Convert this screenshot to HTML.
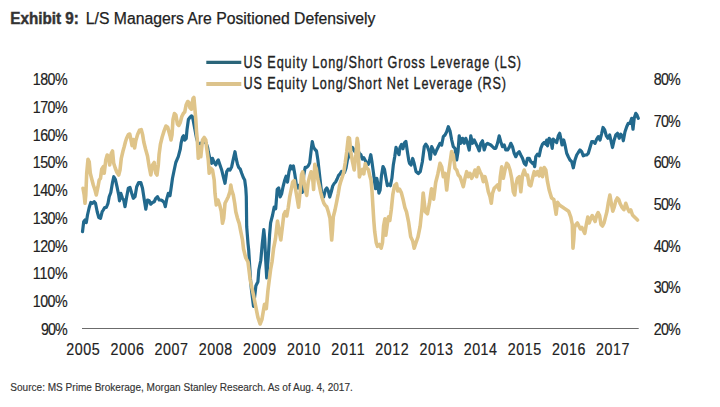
<!DOCTYPE html>
<html><head><meta charset="utf-8"><style>
html,body{margin:0;padding:0;background:#fff;}
body{width:720px;height:407px;overflow:hidden;position:relative;}
svg{position:absolute;left:0;top:0;}
text{font-family:"Liberation Sans", sans-serif;}
</style></head><body>
<svg width="720" height="407" viewBox="0 0 720 407">
<rect width="720" height="407" fill="#fff"/>
<line x1="82" y1="328.5" x2="638.7" y2="328.5" stroke="#6b6b6b" stroke-width="1.1"/>
<line x1="206.3" y1="62.3" x2="241.3" y2="62.3" stroke="#2a6579" stroke-width="3.2"/>
<line x1="206.3" y1="84" x2="241.3" y2="84" stroke="#dcc38c" stroke-width="4"/>
<polyline fill="none" stroke="#22698d" stroke-width="3.2" stroke-linejoin="round" stroke-linecap="round" points="82.5,231.7 83.7,221.7 85.0,220.0 86.3,222.5 87.5,215.0 89.2,207.5 90.8,202.5 92.5,203.3 94.2,201.7 95.5,203.3 97.2,211.7 98.8,217.5 100.5,218.3 102.2,211.7 103.3,210.0 104.7,207.5 106.3,207.5 108.0,203.3 109.2,196.7 110.8,192.5 112.5,182.5 113.8,176.7 115.3,179.2 117.0,186.7 118.7,195.0 119.5,200.8 120.8,193.3 122.5,198.3 123.7,200.0 125.0,206.7 126.7,196.7 128.3,188.3 130.0,187.5 131.7,193.3 133.3,198.3 135.0,196.7 136.7,186.7 138.7,182.5 140.8,182.5 142.5,188.3 144.2,199.2 145.8,209.2 147.5,200.0 149.2,200.8 150.8,204.2 152.5,202.5 154.2,201.7 155.8,198.3 157.5,196.7 159.2,200.0 160.8,200.0 162.5,200.8 164.2,202.5 165.3,206.7 166.7,199.2 168.3,193.3 170.0,195.8 171.3,186.7 172.5,178.3 174.2,170.0 175.8,162.5 178.3,156.7 180.3,149.0 181.1,143.1 182.5,137.2 183.6,135.7 184.7,140.1 186.2,138.7 187.0,129.8 188.4,119.5 189.9,117.3 191.4,115.8 192.4,116.5 193.3,121.0 195.0,130.0 196.5,138.0 198.0,143.0 199.5,144.6 201.0,143.1 203.9,141.6 206.1,143.1 207.6,147.5 208.3,151.7 210.0,159.2 211.7,163.3 212.5,158.3 214.2,162.5 215.8,165.0 217.5,160.8 218.3,160.0 220.0,165.0 221.7,170.0 223.3,176.7 225.0,183.3 226.7,171.7 228.3,169.2 230.0,170.0 231.7,166.7 233.3,159.2 235.0,151.7 236.3,159.2 237.5,164.2 238.7,167.5 240.3,169.2 241.7,173.3 243.3,177.5 244.7,180.0 245.8,188.3 246.3,196.7 246.7,226.7 248.0,243.3 248.7,250.0 250.5,279.5 251.4,289.3 253.5,306.4 255.9,285.7 257.9,281.8 258.8,270.0 260.8,260.2 262.2,244.5 263.8,229.7 264.7,238.6 265.7,260.2 266.7,277.9 267.7,264.1 268.7,250.4 269.6,234.6 270.6,222.9 272.6,215.0 274.2,207.0 275.7,208.7 277.2,189.5 278.7,188.0 280.2,196.9 281.6,193.9 283.1,186.5 284.6,180.6 286.1,176.2 287.5,182.1 289.0,171.8 290.5,165.9 292.0,168.8 293.4,165.9 294.9,174.7 296.4,185.1 297.9,188.0 299.3,185.1 300.8,189.5 302.3,192.4 303.8,174.7 305.2,167.4 306.7,167.4 308.2,165.9 309.7,162.9 311.3,149.0 312.3,141.5 313.5,147.0 315.0,149.5 316.5,151.0 317.9,160.0 319.2,171.8 320.7,185.1 322.2,196.9 323.7,197.0 325.3,190.0 326.8,188.0 328.3,191.0 329.7,197.0 331.2,192.0 332.7,186.0 334.2,183.5 335.6,182.0 337.1,179.0 338.6,175.4 340.1,173.9 341.5,171.5 343.0,174.0 344.5,172.4 346.0,168.0 347.4,160.0 349.2,155.0 350.8,150.0 352.5,147.5 354.2,150.8 355.8,152.5 357.5,149.2 359.4,153.3 360.9,154.7 362.4,159.2 363.8,157.7 365.3,160.6 366.8,163.6 368.3,164.3 369.7,159.2 370.8,154.7 372.0,162.1 373.4,172.4 374.9,184.2 375.6,188.7 376.8,178.3 377.9,184.2 378.9,193.1 380.1,190.1 381.5,175.4 383.0,166.5 384.5,169.5 386.0,178.3 387.4,185.7 388.9,184.2 390.4,185.7 391.9,178.3 393.3,165.1 394.8,156.2 396.0,147.4 397.8,151.8 399.0,154.7 400.0,147.4 401.5,144.4 402.9,148.8 404.4,143.0 405.9,141.5 407.4,151.8 408.8,160.6 409.6,163.5 411.0,165.0 412.7,158.5 414.2,163.5 416.0,171.5 418.3,173.5 420.3,171.5 422.3,162.0 424.3,146.5 425.8,144.2 427.5,146.7 429.2,151.7 430.3,159.2 431.7,146.7 433.3,150.0 435.0,154.2 436.7,150.0 438.3,146.7 440.0,143.3 441.7,145.0 443.3,136.7 445.0,135.0 446.7,131.7 448.3,126.7 450.0,130.8 451.7,140.0 453.3,146.7 455.0,148.3 456.7,160.0 458.0,151.7 459.2,135.8 460.8,143.3 462.5,138.3 464.2,143.3 465.8,138.3 467.5,143.3 469.2,150.0 470.8,135.8 472.5,143.3 474.2,140.0 475.8,143.3 477.5,146.7 479.2,150.8 480.8,143.3 482.5,140.8 484.2,150.0 485.8,145.0 487.5,143.3 489.2,144.2 490.8,145.0 492.5,146.7 494.2,148.3 495.8,148.3 497.5,143.3 499.2,135.8 500.8,141.7 502.5,146.7 504.2,145.0 505.8,150.0 507.5,150.0 509.2,147.5 510.8,143.3 512.5,146.7 514.2,153.3 515.8,156.7 517.5,153.3 519.2,151.7 520.8,155.0 522.5,158.3 524.2,163.3 525.8,165.0 527.5,158.3 529.2,158.3 530.8,161.7 532.5,163.3 533.3,162.5 534.7,166.7 535.8,156.7 537.5,154.2 539.2,155.8 540.8,148.3 542.5,144.2 544.2,142.5 545.8,144.2 546.7,140.0 547.5,145.8 549.2,138.3 550.8,140.0 552.2,148.3 553.3,139.2 555.0,140.8 556.7,142.5 558.3,135.8 559.7,133.3 560.8,138.3 562.0,145.0 563.7,140.0 565.0,145.0 566.7,153.3 568.3,156.7 570.0,160.0 571.7,161.7 573.3,167.8 575.0,160.0 576.7,155.0 578.3,152.5 580.0,150.0 581.7,151.7 583.3,155.8 585.0,155.0 586.7,155.0 588.3,153.3 590.0,147.5 591.7,141.7 593.3,141.7 595.0,143.3 596.7,139.2 598.3,136.7 600.0,140.0 601.7,133.3 603.0,127.5 604.7,130.0 606.3,135.8 608.0,138.3 609.7,135.0 610.8,140.0 612.5,147.5 614.2,140.0 615.8,135.0 617.5,133.3 619.2,138.3 620.8,134.2 622.5,136.7 623.3,140.8 625.0,131.7 626.7,126.7 628.3,123.3 630.0,123.3 631.7,118.3 633.0,129.2 634.2,118.3 635.8,113.3 637.0,115.0 638.3,118.3"/>
<polyline fill="none" stroke="#dfc489" stroke-width="3.6" stroke-linejoin="round" stroke-linecap="round" points="83.0,188.3 84.2,195.0 85.0,203.3 85.8,195.0 86.7,173.3 88.0,159.2 89.2,161.7 90.3,173.3 92.0,180.0 93.3,185.0 95.0,190.0 96.3,195.0 98.0,186.7 99.2,180.0 100.5,178.3 101.7,169.2 103.3,166.7 104.2,173.3 105.8,160.0 107.2,155.0 108.7,156.7 109.7,165.0 111.3,153.3 112.5,151.0 113.7,163.3 115.3,168.3 117.0,172.5 118.7,175.0 120.0,170.0 121.3,158.3 123.0,151.0 124.2,146.7 125.4,142.0 126.6,138.3 128.4,134.6 129.7,134.0 130.9,139.5 132.1,145.6 133.3,139.5 134.6,148.0 135.8,140.7 137.6,134.6 139.5,130.3 141.3,129.7 142.6,134.6 143.8,142.0 145.6,149.3 147.5,156.0 149.2,166.7 150.8,175.0 152.5,165.0 154.2,162.5 155.8,173.3 157.0,175.0 158.3,165.0 159.1,154.2 160.4,144.4 162.2,137.0 164.1,130.9 165.9,126.0 167.7,127.2 169.0,132.0 170.0,135.7 171.0,140.0 172.0,135.0 173.0,119.5 174.4,113.6 175.9,115.1 177.4,123.9 178.8,125.4 180.3,122.4 181.8,116.5 183.3,113.6 184.7,112.1 186.2,104.7 187.7,101.5 188.9,102.5 189.9,107.7 191.4,109.2 193.0,98.5 193.9,97.5 194.8,107.7 195.8,119.5 196.5,131.3 197.3,140.1 198.3,158.3 199.7,146.7 200.8,156.7 202.5,140.0 204.2,137.5 205.8,140.0 206.7,148.0 208.3,160.0 209.2,173.3 210.8,168.3 212.5,170.0 214.2,180.0 215.0,193.3 216.3,205.0 218.0,200.0 219.7,205.0 221.3,211.7 222.5,223.3 223.7,218.3 225.0,203.3 226.7,200.0 228.3,196.7 230.0,191.7 230.8,185.0 231.7,190.0 233.3,195.0 234.7,203.3 235.8,211.7 237.5,218.3 239.2,223.3 240.8,231.7 242.5,240.0 243.5,248.8 245.7,257.7 248.0,262.0 250.2,279.8 253.5,295.3 255.7,306.4 257.9,317.4 260.1,324.0 261.9,319.6 263.4,310.8 264.5,304.2 266.3,308.6 267.9,290.9 269.0,282.0 270.7,268.8 272.0,262.0 273.6,248.4 275.5,238.6 277.5,221.0 279.3,232.0 280.8,240.0 282.4,226.8 283.8,214.6 285.3,211.6 286.8,216.0 288.3,207.2 289.7,196.9 291.2,189.5 292.7,182.1 294.2,180.6 295.6,189.5 297.1,198.3 298.6,207.2 300.1,192.4 301.5,174.7 302.7,171.8 303.8,180.6 305.2,189.5 306.7,195.4 308.2,182.1 309.7,176.2 311.1,171.8 312.6,177.7 313.6,189.5 314.8,164.4 316.3,168.8 317.8,179.2 319.2,185.1 320.7,192.4 322.2,198.3 323.7,202.8 325.0,205.0 326.7,206.7 328.3,211.7 330.0,218.3 331.7,240.0 332.5,230.0 333.3,216.7 335.0,210.0 336.7,201.7 338.3,193.3 339.5,186.0 340.8,181.3 342.3,176.9 343.7,172.4 345.2,163.0 346.7,152.0 348.3,137.5 349.5,138.3 350.8,151.7 352.5,161.7 354.2,170.0 355.8,155.0 357.2,138.3 358.3,145.0 358.7,162.1 359.4,176.9 360.9,172.4 362.4,169.5 363.8,173.9 365.3,163.6 366.8,168.0 368.3,169.5 369.7,175.4 371.0,180.0 372.0,191.0 372.9,205.8 373.8,220.5 374.7,231.6 376.2,242.6 377.5,246.3 379.3,244.5 381.2,248.1 382.5,242.6 383.6,226.0 384.9,218.7 385.8,235.2 387.3,224.2 388.5,216.8 389.8,220.5 391.3,209.5 392.8,194.7 394.6,185.5 396.5,183.7 397.8,191.0 399.6,189.2 401.4,192.9 403.3,200.3 404.9,207.6 406.5,211.8 408.6,222.2 410.7,236.8 412.7,241.0 414.2,248.3 415.9,243.0 418.0,236.8 420.1,226.4 422.1,207.6 423.2,193.0 425.3,211.8 427.4,213.8 429.4,203.4 431.5,188.8 433.6,199.2 435.7,182.5 437.8,174.2 440.0,163.3 441.7,166.7 443.3,176.7 445.0,173.3 446.7,190.0 448.3,175.0 450.0,163.0 451.6,151.5 453.3,155.0 455.0,168.3 456.7,170.0 458.3,175.0 460.0,176.7 461.7,181.7 463.3,186.7 465.0,178.3 466.7,171.7 468.3,176.7 470.0,173.3 471.7,178.3 473.3,175.0 475.0,170.0 476.7,176.7 478.3,167.5 480.0,171.7 481.7,175.0 483.3,181.7 485.0,176.7 486.7,183.3 488.3,191.7 490.0,196.7 491.3,203.3 492.5,193.3 494.2,188.3 495.8,186.7 497.5,185.0 499.2,190.0 500.3,176.7 501.7,166.7 503.3,178.3 505.0,170.0 506.7,163.3 508.3,165.0 510.0,170.0 511.7,178.3 513.3,191.7 514.7,195.0 515.8,185.0 517.5,178.3 519.2,176.7 520.8,191.7 522.5,175.0 524.2,170.0 525.8,175.0 527.5,175.0 529.2,185.0 530.8,185.8 532.5,178.3 534.2,171.7 535.8,175.0 537.5,171.7 539.2,175.8 540.8,168.3 542.5,176.7 544.2,167.5 545.8,170.0 547.5,181.7 549.2,190.0 551.6,198.0 553.8,199.4 556.1,214.2 557.5,202.4 559.7,205.3 562.0,206.8 564.2,208.3 566.4,209.7 568.6,211.2 570.8,217.1 572.3,224.5 573.0,248.1 573.8,239.2 574.5,227.4 576.0,224.5 577.4,223.0 578.9,226.0 580.4,228.9 581.9,227.4 583.3,230.4 584.8,233.3 586.3,224.5 587.8,217.1 589.2,223.0 590.7,218.6 592.2,215.6 593.7,218.6 595.1,221.5 596.6,215.6 598.1,212.7 599.6,215.6 601.0,224.5 602.5,226.0 604.0,223.0 605.5,217.1 607.0,211.2 608.4,202.4 609.9,195.0 611.4,203.8 612.8,211.2 614.3,206.8 615.8,200.9 617.3,198.0 618.7,199.4 620.2,203.8 621.7,206.8 623.9,209.7 625.8,203.3 627.5,208.3 629.2,211.7 630.8,210.0 632.5,215.0 634.2,216.7 635.8,218.3 637.5,220.0"/>
<text x="10.3" y="23.7" font-size="16" font-weight="bold" fill="#333" stroke="#333" stroke-width="0.45" text-anchor="start" textLength="68.5" lengthAdjust="spacingAndGlyphs">Exhibit 9:</text>
<text x="85.8" y="23.7" font-size="16" font-weight="normal" fill="#222" stroke="#222" stroke-width="0.25" text-anchor="start" textLength="289.6" lengthAdjust="spacingAndGlyphs">L/S Managers Are Positioned Defensively</text>
<text transform="translate(243.60,67.60) scale(0.79,1)" font-size="16" font-weight="normal" fill="#222" stroke="#222" stroke-width="0.35" text-anchor="start" textLength="351.27" lengthAdjust="spacing">US Equity Long/Short Gross Leverage (LS)</text>
<text transform="translate(243.60,88.70) scale(0.79,1)" font-size="16" font-weight="normal" fill="#222" stroke="#222" stroke-width="0.35" text-anchor="start" textLength="332.28" lengthAdjust="spacing">US Equity Long/Short Net Leverage (RS)</text>
<text transform="translate(67.60,85.00) scale(0.84,1)" font-size="17" font-weight="normal" fill="#222" stroke="#222" stroke-width="0.2" text-anchor="end" textLength="41.43" lengthAdjust="spacing">180%</text>
<text transform="translate(67.60,112.78) scale(0.84,1)" font-size="17" font-weight="normal" fill="#222" stroke="#222" stroke-width="0.2" text-anchor="end" textLength="41.43" lengthAdjust="spacing">170%</text>
<text transform="translate(67.60,140.56) scale(0.84,1)" font-size="17" font-weight="normal" fill="#222" stroke="#222" stroke-width="0.2" text-anchor="end" textLength="41.43" lengthAdjust="spacing">160%</text>
<text transform="translate(67.60,168.33) scale(0.84,1)" font-size="17" font-weight="normal" fill="#222" stroke="#222" stroke-width="0.2" text-anchor="end" textLength="41.43" lengthAdjust="spacing">150%</text>
<text transform="translate(67.60,196.11) scale(0.84,1)" font-size="17" font-weight="normal" fill="#222" stroke="#222" stroke-width="0.2" text-anchor="end" textLength="41.43" lengthAdjust="spacing">140%</text>
<text transform="translate(67.60,223.89) scale(0.84,1)" font-size="17" font-weight="normal" fill="#222" stroke="#222" stroke-width="0.2" text-anchor="end" textLength="41.43" lengthAdjust="spacing">130%</text>
<text transform="translate(67.60,251.67) scale(0.84,1)" font-size="17" font-weight="normal" fill="#222" stroke="#222" stroke-width="0.2" text-anchor="end" textLength="41.43" lengthAdjust="spacing">120%</text>
<text transform="translate(67.60,279.44) scale(0.84,1)" font-size="17" font-weight="normal" fill="#222" stroke="#222" stroke-width="0.2" text-anchor="end" textLength="41.43" lengthAdjust="spacing">110%</text>
<text transform="translate(67.60,307.22) scale(0.84,1)" font-size="17" font-weight="normal" fill="#222" stroke="#222" stroke-width="0.2" text-anchor="end" textLength="41.43" lengthAdjust="spacing">100%</text>
<text transform="translate(67.60,335.00) scale(0.84,1)" font-size="17" font-weight="normal" fill="#222" stroke="#222" stroke-width="0.2" text-anchor="end" textLength="31.67" lengthAdjust="spacing">90%</text>
<text transform="translate(653.80,85.00) scale(0.84,1)" font-size="17" font-weight="normal" fill="#222" stroke="#222" stroke-width="0.2" text-anchor="start" textLength="32.14" lengthAdjust="spacing">80%</text>
<text transform="translate(653.80,126.67) scale(0.84,1)" font-size="17" font-weight="normal" fill="#222" stroke="#222" stroke-width="0.2" text-anchor="start" textLength="32.14" lengthAdjust="spacing">70%</text>
<text transform="translate(653.80,168.33) scale(0.84,1)" font-size="17" font-weight="normal" fill="#222" stroke="#222" stroke-width="0.2" text-anchor="start" textLength="32.14" lengthAdjust="spacing">60%</text>
<text transform="translate(653.80,210.00) scale(0.84,1)" font-size="17" font-weight="normal" fill="#222" stroke="#222" stroke-width="0.2" text-anchor="start" textLength="32.14" lengthAdjust="spacing">50%</text>
<text transform="translate(653.80,251.67) scale(0.84,1)" font-size="17" font-weight="normal" fill="#222" stroke="#222" stroke-width="0.2" text-anchor="start" textLength="32.14" lengthAdjust="spacing">40%</text>
<text transform="translate(653.80,293.33) scale(0.84,1)" font-size="17" font-weight="normal" fill="#222" stroke="#222" stroke-width="0.2" text-anchor="start" textLength="32.14" lengthAdjust="spacing">30%</text>
<text transform="translate(653.80,335.00) scale(0.84,1)" font-size="17" font-weight="normal" fill="#222" stroke="#222" stroke-width="0.2" text-anchor="start" textLength="32.14" lengthAdjust="spacing">20%</text>
<text transform="translate(83.00,355.20) scale(0.84,1)" font-size="17" font-weight="normal" fill="#222" stroke="#222" stroke-width="0.2" text-anchor="middle" textLength="39.76" lengthAdjust="spacing">2005</text>
<text transform="translate(127.15,355.20) scale(0.84,1)" font-size="17" font-weight="normal" fill="#222" stroke="#222" stroke-width="0.2" text-anchor="middle" textLength="39.76" lengthAdjust="spacing">2006</text>
<text transform="translate(171.30,355.20) scale(0.84,1)" font-size="17" font-weight="normal" fill="#222" stroke="#222" stroke-width="0.2" text-anchor="middle" textLength="39.76" lengthAdjust="spacing">2007</text>
<text transform="translate(215.45,355.20) scale(0.84,1)" font-size="17" font-weight="normal" fill="#222" stroke="#222" stroke-width="0.2" text-anchor="middle" textLength="39.76" lengthAdjust="spacing">2008</text>
<text transform="translate(259.60,355.20) scale(0.84,1)" font-size="17" font-weight="normal" fill="#222" stroke="#222" stroke-width="0.2" text-anchor="middle" textLength="39.76" lengthAdjust="spacing">2009</text>
<text transform="translate(303.75,355.20) scale(0.84,1)" font-size="17" font-weight="normal" fill="#222" stroke="#222" stroke-width="0.2" text-anchor="middle" textLength="39.76" lengthAdjust="spacing">2010</text>
<text transform="translate(347.90,355.20) scale(0.84,1)" font-size="17" font-weight="normal" fill="#222" stroke="#222" stroke-width="0.2" text-anchor="middle" textLength="39.76" lengthAdjust="spacing">2011</text>
<text transform="translate(392.05,355.20) scale(0.84,1)" font-size="17" font-weight="normal" fill="#222" stroke="#222" stroke-width="0.2" text-anchor="middle" textLength="39.76" lengthAdjust="spacing">2012</text>
<text transform="translate(436.20,355.20) scale(0.84,1)" font-size="17" font-weight="normal" fill="#222" stroke="#222" stroke-width="0.2" text-anchor="middle" textLength="39.76" lengthAdjust="spacing">2013</text>
<text transform="translate(480.35,355.20) scale(0.84,1)" font-size="17" font-weight="normal" fill="#222" stroke="#222" stroke-width="0.2" text-anchor="middle" textLength="39.76" lengthAdjust="spacing">2014</text>
<text transform="translate(524.50,355.20) scale(0.84,1)" font-size="17" font-weight="normal" fill="#222" stroke="#222" stroke-width="0.2" text-anchor="middle" textLength="39.76" lengthAdjust="spacing">2015</text>
<text transform="translate(568.65,355.20) scale(0.84,1)" font-size="17" font-weight="normal" fill="#222" stroke="#222" stroke-width="0.2" text-anchor="middle" textLength="39.76" lengthAdjust="spacing">2016</text>
<text transform="translate(612.80,355.20) scale(0.84,1)" font-size="17" font-weight="normal" fill="#222" stroke="#222" stroke-width="0.2" text-anchor="middle" textLength="39.76" lengthAdjust="spacing">2017</text>
<text x="10.3" y="391.3" font-size="11" font-weight="normal" fill="#333" stroke="#333" stroke-width="0.15" text-anchor="start" textLength="342.5" lengthAdjust="spacingAndGlyphs">Source: MS Prime Brokerage, Morgan Stanley Research. As of Aug. 4, 2017.</text>
</svg>
</body></html>
